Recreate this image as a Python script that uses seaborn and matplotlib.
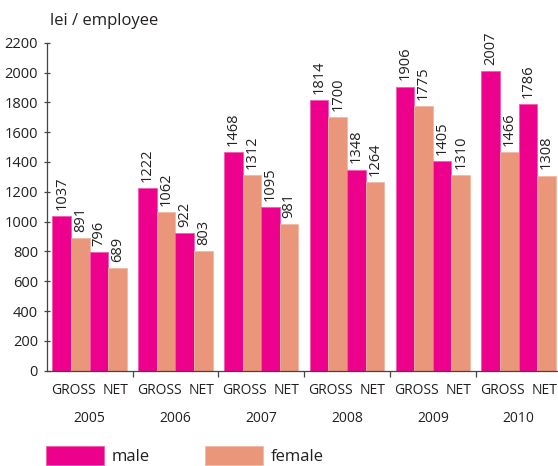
import matplotlib
matplotlib.use("Agg")
import matplotlib.pyplot as plt
from matplotlib.patches import Patch
import seaborn as sns
import pandas as pd

# Average monthly earnings, lei per employee
years = ["2005", "2006", "2007", "2008", "2009", "2010"]
male_gross = [1037, 1222, 1468, 1814, 1906, 2007]
female_gross = [891, 1062, 1312, 1700, 1775, 1466]
male_net = [796, 922, 1095, 1348, 1405, 1786]
female_net = [689, 803, 981, 1264, 1310, 1308]
y_ticks = list(range(0, 2201, 200))

series = {
    "male GROSS": male_gross,
    "female GROSS": female_gross,
    "male NET": male_net,
    "female NET": female_net,
}
rows = []
for name, vals in series.items():
    for yr, v in zip(years, vals):
        rows.append({"year": yr, "series": name, "value": v})
df = pd.DataFrame(rows)

PINK = "#EC008C"
SALMON = "#EA967A"
PINK_EDGE = "#F25AAE"
SALMON_EDGE = "#F2B8A4"
TEXT = "#231F20"

sns.set_theme(style="ticks")
plt.rcParams["font.family"] = ["Open Sans", "DejaVu Sans"]

fig = plt.figure(figsize=(5.58, 4.66), dpi=100)
ax = fig.add_axes([0.0837, 0.2046, 0.9226, 0.7038])

sns.barplot(
    data=df, x="year", y="value", hue="series",
    hue_order=list(series.keys()),
    palette=[PINK, SALMON, PINK, SALMON],
    width=0.867, saturation=1, legend=False, ax=ax,
    order=years, errorbar=None, linewidth=0, edgecolor="none",
)

# thin light outline on each bar
for k, cont in enumerate(ax.containers):
    edge = PINK_EDGE if k % 2 == 0 else SALMON_EDGE
    for bar in cont:
        bar.set_edgecolor(edge)
        bar.set_linewidth(0.6)
    ax.bar_label(cont, fmt="%d", rotation=90, padding=4.5,
                 fontsize=10.5, color=TEXT)

ax.set_xlim(-0.5, len(years) - 0.5)
ax.set_ylim(0, 2200)
ax.set_yticks(y_ticks)
ax.set_yticklabels([str(t) for t in y_ticks], fontsize=10.5, color=TEXT)
ax.tick_params(axis="y", direction="inout", length=4.5, width=0.9,
               color="#444444", pad=4)

# group separators on the x axis
ax.set_xticks([i + 0.5 for i in range(len(years) - 1)])
ax.set_xticklabels([])
ax.tick_params(axis="x", direction="out", length=4, width=0.9, color="#444444")
ax.set_xlabel("")
ax.set_ylabel("")

for s in ["top", "right"]:
    ax.spines[s].set_visible(False)
for s in ["left", "bottom"]:
    ax.spines[s].set_color("#444444")
    ax.spines[s].set_linewidth(0.9)
    ax.spines[s].set_zorder(3)

xt = ax.get_xaxis_transform()
for i, yr in enumerate(years):
    ax.text(i - 0.19, -0.061, "GROSS", transform=xt, ha="center", va="center",
            fontsize=10, color=TEXT)
    ax.text(i + 0.30, -0.061, "NET", transform=xt, ha="center", va="center",
            fontsize=10, color=TEXT)
    ax.text(i, -0.146, yr, transform=xt, ha="center", va="center",
            fontsize=10, color=TEXT)

fig.text(50 / 558, 1 - 25 / 466, "lei / employee", ha="left", va="baseline",
         fontsize=12, color=TEXT)

handles = [Patch(facecolor=PINK, edgecolor=PINK_EDGE, linewidth=0.6, label="male"),
           Patch(facecolor=SALMON, edgecolor=SALMON_EDGE, linewidth=0.6, label="female")]
fig.legend(handles=handles, loc="lower left",
           bbox_to_anchor=(46 / 558, 1 / 466), ncol=2, frameon=False,
           fontsize=12, handlelength=3.5, handleheight=1.35,
           handletextpad=0.45, columnspacing=3.3, borderpad=0,
           borderaxespad=0, labelcolor=TEXT)

fig.savefig("out.png", dpi=100)
